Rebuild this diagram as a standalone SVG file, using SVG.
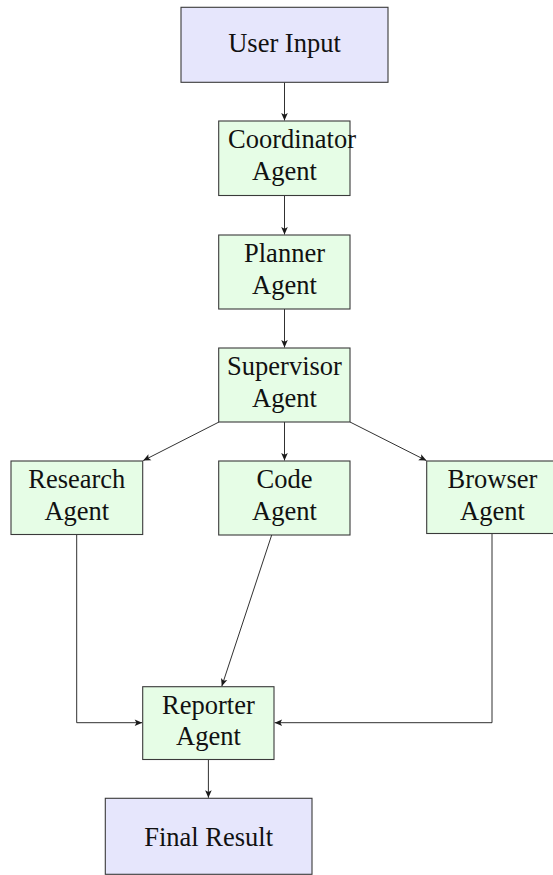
<svg xmlns="http://www.w3.org/2000/svg" width="553" height="875" viewBox="0 0 553 875">
<style>
.io rect{fill:#e6e6fc;stroke:#3a3a3a;stroke-width:1.1}
.ag rect{fill:#e6fde6;stroke:#3a3a3a;stroke-width:1.1}
text{font-family:"Liberation Serif","Times New Roman",serif;font-size:26.5px;fill:#111;text-anchor:middle}
#connectors path{fill:none;stroke:#1a1a1a;stroke-width:0.9;marker-end:url(#arr)}
</style>
<defs>
<marker id="arr" markerUnits="userSpaceOnUse" viewBox="-8 -4 9 8" refX="0" refY="0" markerWidth="9" markerHeight="8" orient="auto">
<path d="M0,0 L-7.5,-3.3 L-5.8,0 L-7.5,3.3 Z" fill="#1a1a1a"/>
</marker>
</defs>
<rect width="553" height="875" fill="#fff"/>
<g id="connectors">
<path d="M284.5,82.3 V120.5"/>
<path d="M284.5,195.5 V234.5"/>
<path d="M284.5,309 V347.5"/>
<path d="M219,422 L143.2,460.6"/>
<path d="M284.5,422 V460.5"/>
<path d="M350,422 L426.4,460.6"/>
<path d="M76.7,535 V722.7 H142.2"/>
<path d="M271.7,535 L221.8,686.2"/>
<path d="M492,534 V722.7 H274.6"/>
<path d="M208.4,759.5 V797.8"/>
</g>
<g id="user-input" class="io"><rect x="181" y="7.3" width="207" height="75"/><text x="284.5" y="51.5">User Input</text></g>
<g id="coordinator" class="ag"><rect x="218.7" y="121" width="131.3" height="74.5"/><text x="228" y="148" style="text-anchor:start">Coordinator</text><text x="284.5" y="179.8">Agent</text></g>
<g id="planner" class="ag"><rect x="218.7" y="235" width="131.3" height="74"/><text x="284.5" y="261.8">Planner</text><text x="284.5" y="293.5">Agent</text></g>
<g id="supervisor" class="ag"><rect x="218.7" y="348" width="131.3" height="74"/><text x="284.5" y="374.8">Supervisor</text><text x="284.5" y="406.5">Agent</text></g>
<g id="research" class="ag"><rect x="11" y="461" width="131.7" height="73.5"/><text x="76.8" y="487.8">Research</text><text x="76.8" y="519.5">Agent</text></g>
<g id="code" class="ag"><rect x="218.7" y="461" width="131.3" height="74"/><text x="284.5" y="487.8">Code</text><text x="284.5" y="519.5">Agent</text></g>
<g id="browser" class="ag"><rect x="426.7" y="461" width="131.7" height="72.5"/><text x="492.5" y="487.8">Browser</text><text x="492.5" y="519.5">Agent</text></g>
<g id="reporter" class="ag"><rect x="142.7" y="686.7" width="131.3" height="72.8"/><text x="208.4" y="713.5">Reporter</text><text x="208.4" y="745.2">Agent</text></g>
<g id="final-result" class="io"><rect x="105.3" y="798.3" width="206.7" height="76"/><text x="208.6" y="845.5">Final Result</text></g>
</svg>
